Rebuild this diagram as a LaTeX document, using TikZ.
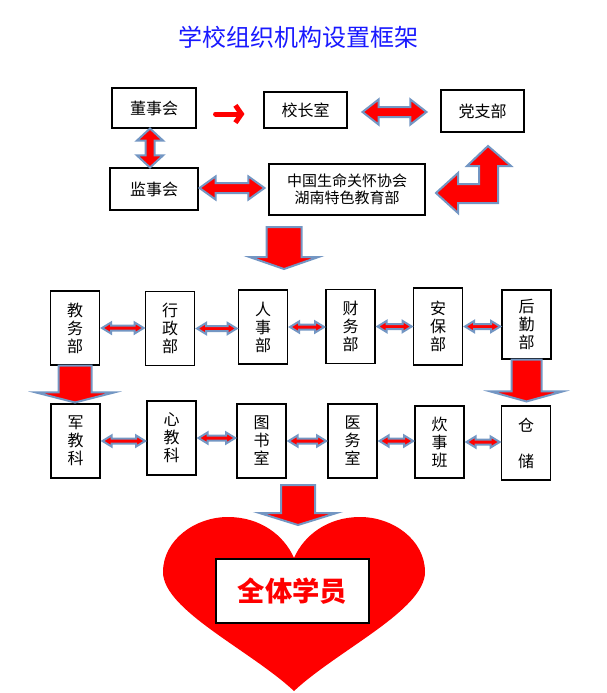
\documentclass[tikz,border=0pt]{standalone}
\usepackage{fontspec}
\setmainfont{Noto Sans CJK SC}
\usetikzlibrary{calc,arrows.meta}

\definecolor{edgeblue}{RGB}{115,150,195}
\definecolor{titleblue}{RGB}{25,25,255}

% block arrows: from, to, head half, shaft half, head length (px)
\newcommand\hdbl[5]{%
  \draw[blockarr] let \p1=#1, \p2=#2, \n1={(\x2-\x1)-1.5*#5} in
    (\p1) -- ++(#5,-#3) -- ++(0,#3-#4) -- ++(\n1,0) -- ++(0,#4-#3) -- ++(#5,#3)
    -- ++(-#5,#3) -- ++(0,#4-#3) -- ++(-\n1,0) -- ++(0,#3-#4) -- cycle;}
\newcommand\vdbl[5]{%
  \draw[blockarr] let \p1=#1, \p2=#2, \n1={(\y1-\y2)-1.5*#5} in
    (\p1) -- ++(-#3,#5) -- ++(#3-#4,0) -- ++(0,-\n1) -- ++(#4-#3,0) -- ++(#3,#5)
    -- ++(#3,-#5) -- ++(#4-#3,0) -- ++(0,\n1) -- ++(#3-#4,0) -- cycle;}
% down arrow: from, tip, shaft half, head half, head length (px)
\newcommand\downarr[5]{%
  \draw[blockarr] let \p1=#1, \p2=#2, \n1={(\y1-\y2)-0.75*#5} in
    (\p1) ++(-#3,0) -- ++(0,-\n1) -- ++(#3-#4,0) -- ++(#4,#5) -- ++(#4,-#5)
    -- ++(#3-#4,0) -- ++(0,\n1) -- cycle;}

\begin{document}
\begin{tikzpicture}[x=0.75pt,y=-0.75pt,
  box/.style={draw,line width=0.8pt,inner sep=0pt,align=center,
    font=\fontsize{12}{13.5}\selectfont},
  col/.style={box,minimum width=36.75pt,minimum height=55.5pt},
  blockarr/.style={fill=red,draw=edgeblue,line width=1.5pt},
  smallarr/.style={blockarr,line width=1pt}]

  \useasboundingbox (0,0) rectangle (607,693);

  \node[text=titleblue,font=\fontsize{18}{20}\selectfont] (title) at (298,37) {学校组织机构设置框架};

  % top part
  \node[box,minimum width=63pt,minimum height=30pt] (dsh) at (154,108) {董事会};
  \node[box,minimum width=62.25pt,minimum height=27pt] (xzs) at (305.5,110) {校长室};
  \node[box,minimum width=62.25pt,minimum height=31.5pt] (dzb) at (482.5,111) {党支部};
  \node[box,minimum width=66pt,minimum height=31.5pt] (jsh) at (154,189) {监事会};
  \node[box,minimum width=117pt,minimum height=38.25pt,
    font=\fontsize{11.25}{12.75}\selectfont] (xh) at (347,189.5) {中国生命关怀协会\\湖南特色教育部};

  \draw[red,line width=3.75pt,line cap=round,-{Straight Barb[length=4.5pt,width=13pt]}]
    ($(dsh.east)+(19,6)$) -- ($(xzs.west)+(-19,4)$);
  \hdbl{($(xzs.east)+(15,2)$)}{($(dzb.west)+(-14,1)$)}{12.5}{5}{16}
  \vdbl{([xshift=-3pt]dsh.south)}{([xshift=-3pt]jsh.north)}{13}{4.5}{12}
  \hdbl{($(jsh.east)+(1,-1)$)}{($(xh.west)+(-4,-1)$)}{11.5}{5}{16}
  \draw[blockarr] (436,193) -- (458,173) -- (458,184) -- (479,184) -- (479,166)
    -- (467,166) -- (488,146) -- (511,166) -- (498,166) -- (498,203) -- (458,203)
    -- (458,213) -- cycle;

  \coordinate (a1) at (284,227);
  \coordinate (a2) at (284,269);
  \downarr{(a1)}{(a2)}{17.5}{34.5}{12}

  % first row
  \node[col] (jwb) at (75,328) {教\\务\\部};
  \node[col] (xzb) at (170,328.5) {行\\政\\部};
  \node[col] (rsb) at (263,327) {人\\事\\部};
  \node[col] (cwb) at (350.5,326.5) {财\\务\\部};
  \node[col,minimum height=57.75pt] (abb) at (438,326.5) {安\\保\\部};
  \node[col,minimum height=51.75pt] (hqb) at (526.5,324.5) {后\\勤\\部};

  % second row
  \node[col] (jjk) at (75.5,441) {军\\教\\科};
  \node[col] (xjk) at (171.5,438) {心\\教\\科};
  \node[col] (tss) at (261.5,441) {图\\书\\室};
  \node[col] (yws) at (352.5,441) {医\\务\\室};
  \node[col,minimum height=54pt] (csb) at (439.5,442) {炊\\事\\班};
  \node[col] (cc) at (526,443) {仓\\[13.5pt]储};

  \foreach \a/\b in {jwb/xzb,xzb/rsb,rsb/cwb,cwb/abb,abb/hqb,
                     jjk/xjk,xjk/tss,tss/yws,yws/csb,csb/cc}{
    \hdbl{([xshift=1.5pt]\a.east)}{([xshift=-1pt]\b.west)}{5.5}{2.5}{9}
  }

  \downarr{(jwb.south)}{([yshift=0.75pt]jjk.north)}{16.5}{39}{10}
  \downarr{(hqb.south)}{([yshift=3pt]cc.north)}{15}{36}{10}

  % heart
  \fill[red] (294,558) .. controls (284,535) and (260,517) .. (228,517)
    .. controls (195,517) and (163,540) .. (163,572)
    .. controls (163,610) and (250,650) .. (294,691)
    .. controls (338,650) and (425,610) .. (425,572)
    .. controls (425,540) and (393,517) .. (360,517)
    .. controls (328,517) and (304,535) .. (294,558) -- cycle;

  \coordinate (b1) at (298,485);
  \coordinate (b2) at (298,525);
  \downarr{(b1)}{(b2)}{17}{38.5}{12}

  \node[box,fill=white,minimum width=114.75pt,minimum height=48pt,text=red,
    font=\fontsize{20.5}{22}\selectfont\bfseries] (qtxy) at (292.5,591) {全体学员};
\end{tikzpicture}
\end{document}
